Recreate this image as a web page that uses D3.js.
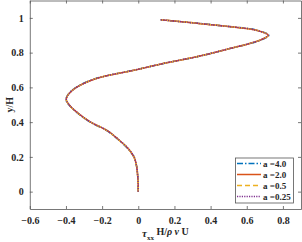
<!DOCTYPE html>
<html lang="en">
<head>
<meta charset="UTF-8">
<title>tau_xx profile</title>
<style>
    body { margin: 0; background: #fff; }
    svg text { font-family: "Liberation Serif", "DejaVu Serif", serif; font-weight: bold; fill: #262626; }
</style>
<script src="https://d3js.org/d3.v7.min.js"></script>
</head>
<body>
<div id="chart"></div>
<script>
    // y/H positions where the profile was read
    const yPos = [0.0, 0.05, 0.10, 0.15, 0.20, 0.25, 0.30, 0.35, 0.40, 0.45, 0.50, 0.53, 0.56, 0.60,
                  0.65, 0.70, 0.74, 0.78, 0.82, 0.85, 0.875, 0.90, 0.93, 0.95, 0.97, 0.989];
    // tau_xx H / rho nu U for each a
    const tauA40 = [0.000, -0.001, -0.004, -0.010, -0.024, -0.060, -0.112, -0.172, -0.266, -0.334, -0.384, -0.400, -0.388, -0.344,
                    -0.238, -0.020, 0.152, 0.342, 0.494, 0.610, 0.684, 0.722, 0.652, 0.502, 0.318, 0.124];
    const tauA20 = [0.000, -0.001, -0.004, -0.010, -0.024, -0.058, -0.110, -0.170, -0.264, -0.332, -0.383, -0.399, -0.387, -0.342,
                    -0.236, -0.018, 0.150, 0.340, 0.492, 0.607, 0.681, 0.719, 0.649, 0.501, 0.317, 0.124];
    const tauA05 = [0.000, -0.001, -0.004, -0.010, -0.024, -0.058, -0.110, -0.170, -0.264, -0.332, -0.383, -0.399, -0.387, -0.342,
                    -0.236, -0.018, 0.150, 0.340, 0.492, 0.607, 0.681, 0.719, 0.649, 0.501, 0.317, 0.124];
    const tauA025 = [0.000, -0.001, -0.004, -0.010, -0.023, -0.057, -0.109, -0.169, -0.263, -0.331, -0.382, -0.398, -0.386, -0.341,
                     -0.235, -0.017, 0.149, 0.339, 0.491, 0.606, 0.680, 0.717, 0.648, 0.500, 0.316, 0.124];

    const seriesNames = ["a =4.0", "a =2.0", "a =0.5", "a =0.25"];
    const seriesVals = [tauA40, tauA20, tauA05, tauA025];
    const colors = ["#0072BD", "#D95319", "#EDB120", "#7E2F8E"];
    const dashes = ["6,2,1.5,2", null, "5,3", "1.2,1.2"];

    const xTicks = [-0.6, -0.4, -0.2, 0, 0.2, 0.4, 0.6, 0.8];
    const yTicks = [0, 0.2, 0.4, 0.6, 0.8, 1];

    const W = 302, H = 242;
    const m = { left: 29.8, right: 1, top: 0.5, bottom: 33 };

    const svg = d3.select("#chart").append("svg")
        .attr("width", W).attr("height", H);

    const x = d3.scaleLinear().domain([-0.6, 0.9]).range([m.left, W - m.right]);
    const y = d3.scaleLinear().domain([-0.1, 1.1]).range([H - m.bottom, m.top]);

    // axes with inward ticks, box on
    const tickLen = 3;
    const fmt = d => d === 0 ? "0" : (d === 1 ? "1" : d3.format(".1f")(d));

    const xAxis = svg.append("g").attr("transform", `translate(0,${y(-0.1)})`)
        .call(d3.axisBottom(x).tickValues(xTicks).tickSizeInner(-tickLen).tickSizeOuter(0).tickPadding(8).tickFormat(fmt));
    const yAxis = svg.append("g").attr("transform", `translate(${x(-0.6)},0)`)
        .call(d3.axisLeft(y).tickValues(yTicks).tickSizeInner(-tickLen).tickSizeOuter(0).tickPadding(6).tickFormat(fmt));
    const xTop = svg.append("g").attr("transform", `translate(0,${y(1.1)})`)
        .call(d3.axisTop(x).tickValues(xTicks).tickSizeInner(-tickLen).tickSizeOuter(0).tickFormat(""));
    const yRight = svg.append("g").attr("transform", `translate(${x(0.9)},0)`)
        .call(d3.axisRight(y).tickValues(yTicks).tickSizeInner(-tickLen).tickSizeOuter(0).tickFormat(""));

    [xAxis, yAxis, xTop, yRight].forEach(g => {
        g.select(".domain").attr("stroke", "#555").attr("stroke-width", 0.8);
        g.selectAll(".tick line").attr("stroke", "#555").attr("stroke-width", 0.8);
        g.selectAll(".tick text").attr("font-size", 10).attr("font-family", null).attr("fill", "#262626");
    });

    // curves
    const line = d3.line()
        .x(d => x(d[0]))
        .y(d => y(d[1]))
        .curve(d3.curveCatmullRom);

    seriesVals.forEach((vals, i) => {
        const pts = vals.map((v, j) => [v, yPos[j]]);
        svg.append("path")
            .datum(pts)
            .attr("d", line)
            .attr("fill", "none")
            .attr("stroke", colors[i])
            .attr("stroke-width", 1.5)
            .attr("stroke-dasharray", dashes[i]);
    });

    // axis titles
    svg.append("text")
        .attr("transform", `translate(13,${(y(1.1) + y(-0.1)) / 2}) rotate(-90)`)
        .attr("text-anchor", "middle")
        .attr("font-size", 10)
        .text("y/H");

    const xl = svg.append("text")
        .attr("x", (x(-0.6) + x(0.9)) / 2)
        .attr("y", 235)
        .attr("text-anchor", "middle")
        .attr("font-size", 10);
    xl.append("tspan").attr("font-style", "italic").attr("font-size", 11).attr("dy", 2).text("τ");
    xl.append("tspan").attr("font-size", 7).attr("dy", 3).text("xx");
    xl.append("tspan").attr("dy", -5).text(" H/");
    xl.append("tspan").attr("font-style", "italic").text("ρ");
    xl.append("tspan").text(" ");
    xl.append("tspan").attr("font-style", "italic").text("ν");
    xl.append("tspan").text(" U");

    // legend
    const lg = svg.append("g");
    lg.append("rect")
        .attr("x", 235.5).attr("y", 158)
        .attr("width", 58).attr("height", 45)
        .attr("fill", "#fff")
        .attr("stroke", "#555").attr("stroke-width", 0.8);
    seriesNames.forEach((name, i) => {
        const ly = 163.5 + i * 11;
        lg.append("line")
            .attr("x1", 237).attr("x2", 261)
            .attr("y1", ly).attr("y2", ly)
            .attr("stroke", colors[i])
            .attr("stroke-width", 1.5)
            .attr("stroke-dasharray", dashes[i]);
        lg.append("text")
            .attr("x", 263).attr("y", ly + 3.2)
            .attr("font-size", 9)
            .text(name);
    });
</script>
</body>
</html>
